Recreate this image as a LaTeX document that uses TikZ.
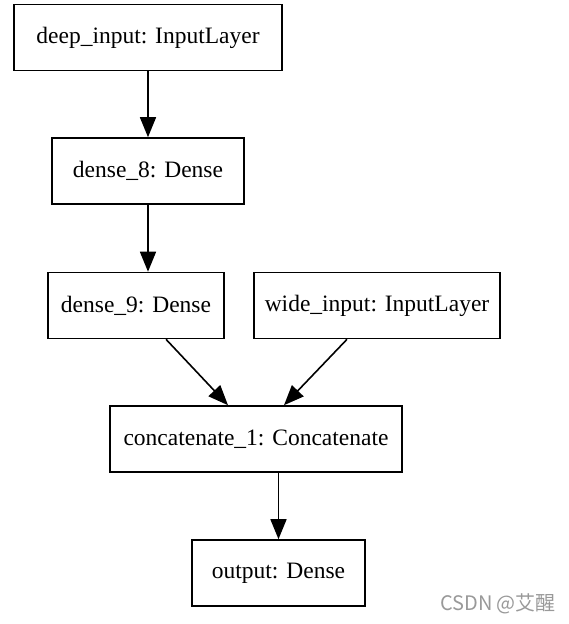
\documentclass[tikz,border=0pt]{standalone}
\usepackage{fontspec}
\setmainfont{Liberation Serif}
\newfontfamily\cjkfont{Noto Sans CJK SC}
\usetikzlibrary{arrows.meta,positioning}

\begin{document}
\begin{tikzpicture}[x=1pt,y=-1pt,>={Triangle[length=20pt,width=16pt]},
layer/.style={draw,line width=1.6pt,minimum height=66pt,inner sep=0pt,
    font=\fontsize{23.5}{28}\selectfont},
flow/.style={->,line width=1.6pt}
    ]
\useasboundingbox (0,0) rectangle (569,624);
\node[layer,minimum width=268pt](deepinput) at (148,37.5) {deep\_input: InputLayer};
\node[layer,minimum width=192pt](dense8) at (148,171) {dense\_8: Dense};
\node[layer,minimum width=176pt](dense9) at (136,305.5) {dense\_9: Dense};
\node[layer,minimum width=246pt](wideinput) at (377,305.5) {wide\_input: InputLayer};
\node[layer,minimum width=292pt](concat) at (256,439) {concatenate\_1: Concatenate};
\node[layer,minimum width=173pt](output) at (278.5,573) {output: Dense};
\node[text=black!40,font=\cjkfont\fontsize{20}{24}\selectfont](mark) at (498,604) {CSDN @艾醒};

\draw[flow] (deepinput) -- (dense8);
\draw[flow] (dense8.south -| dense9.north) ++(12,0) -- ([xshift=12pt]dense9.north);
\draw[flow] ([xshift=30pt]dense9.south) -- ([xshift=-28pt]concat.north);
\draw[flow] ([xshift=-30pt]wideinput.south) -- ([xshift=28pt]concat.north);
\draw[flow] (concat.south -| output.north) -- (output);
\end{tikzpicture}
\end{document}
